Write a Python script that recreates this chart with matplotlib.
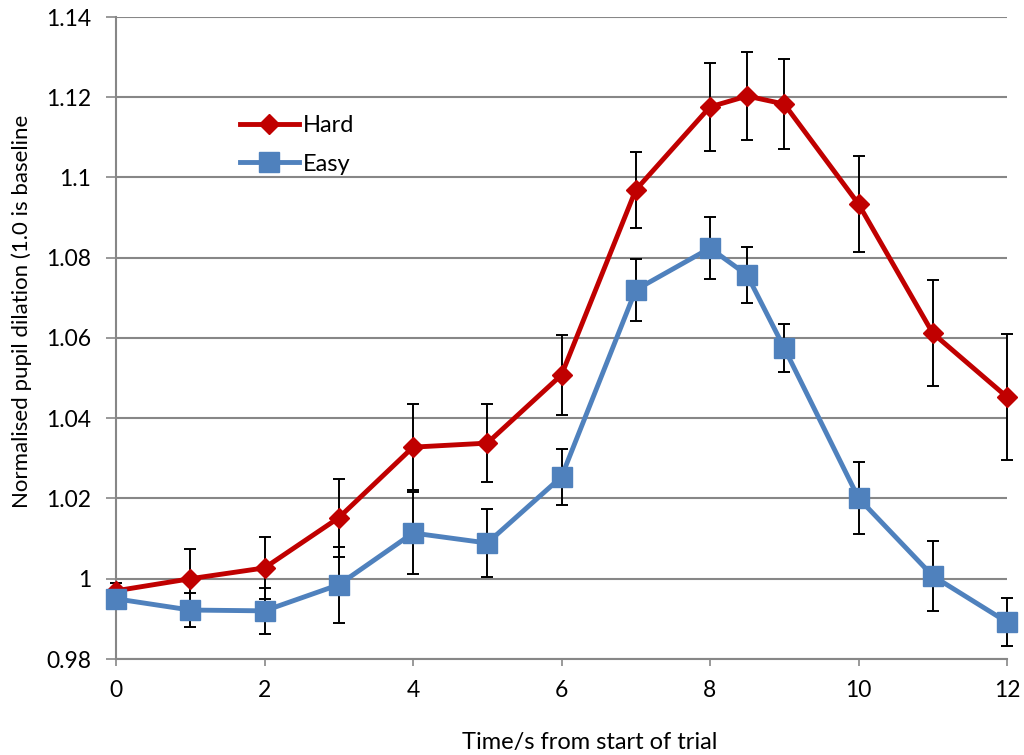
import numpy as np
import matplotlib
matplotlib.use('Agg')
import matplotlib.pyplot as plt

# time points (s)
t = [0, 1, 2, 3, 4, 5, 6, 7, 8, 8.5, 9, 10, 11, 12]

# mean normalised pupil dilation
hard = [0.997, 1.0, 1.0027, 1.0152, 1.0328, 1.0338, 1.0508, 1.0969, 1.1176, 1.1203, 1.1183, 1.0934, 1.0612, 1.0453]
easy = [0.995, 0.9922, 0.992, 0.9985, 1.0114, 1.0089, 1.0254, 1.072, 1.0824, 1.0757, 1.0575, 1.0201, 1.0007, 0.9892]

# error bar half-widths
hard_err = [0.002, 0.0075, 0.0077, 0.0097, 0.0108, 0.0097, 0.010, 0.0094, 0.0109, 0.011, 0.0112, 0.012, 0.0132, 0.0158]
easy_err = [0.002, 0.0042, 0.0057, 0.0095, 0.0102, 0.0085, 0.007, 0.0078, 0.0077, 0.007, 0.006, 0.0089, 0.0087, 0.006]

yticks = [0.98, 1.0, 1.02, 1.04, 1.06, 1.08, 1.1, 1.12, 1.14]
ytick_labels = ['0.98', '1', '1.02', '1.04', '1.06', '1.08', '1.1', '1.12', '1.14']
xticks = [0, 2, 4, 6, 8, 10, 12]

red = '#C00000'
blue = '#4F81BD'
grey = '#878787'

plt.rcParams['font.family'] = ['Lato', 'DejaVu Sans']

fig = plt.figure(figsize=(10.24, 7.55), dpi=100)
ax = fig.add_axes([116 / 1024, 1 - 659 / 755, (1007 - 116) / 1024, (659 - 17) / 755])

# error bars first, lines on top
for y, e in [(hard, hard_err), (easy, easy_err)]:
    eb = ax.errorbar(t, y, yerr=e, fmt='none', ecolor='black', elinewidth=1.4,
                     capsize=4.5, capthick=1.4, zorder=3)
    for art in eb.lines[1] + eb.lines[2]:
        art.set_clip_on(False)

ax.plot(t, hard, color=red, lw=3.5, marker='D', ms=10.5, mfc=red, mec=red,
        label='Hard', zorder=4, clip_on=False)
ax.plot(t, easy, color=blue, lw=3.5, marker='s', ms=14, mfc=blue, mec=blue,
        label='Easy', zorder=5, clip_on=False)

ax.set_xlim(0, 12)
ax.set_ylim(0.98, 1.14)
ax.set_xticks(xticks)
ax.set_yticks(yticks)
ax.set_yticklabels(ytick_labels)

ax.grid(axis='y', color=grey, lw=1.5)
ax.set_axisbelow(True)
for s in ['top', 'right']:
    ax.spines[s].set_visible(False)
for s in ['left', 'bottom']:
    ax.spines[s].set_color(grey)
    ax.spines[s].set_linewidth(1.5)
ax.tick_params(axis='both', colors=grey, labelcolor='black', labelsize=16.5,
               width=1.2)
ax.tick_params(axis='y', length=7, pad=11)
ax.tick_params(axis='x', length=5, pad=10)

ax.set_xlabel('Time/s from start of trial', fontsize=17)
ax.xaxis.set_label_coords(0.532, -0.113)
ax.set_ylabel('Normalised pupil dilation (1.0 is baseline', fontsize=16)
ax.yaxis.set_label_coords(-0.094, 0.542)

ax.legend(loc='upper left', bbox_to_anchor=(0.139, 0.8475), frameon=False,
          fontsize=17, handlelength=2.5, handletextpad=0.15, labelspacing=0.75,
          borderaxespad=0, borderpad=0)

fig.savefig('out.png', dpi=100)
